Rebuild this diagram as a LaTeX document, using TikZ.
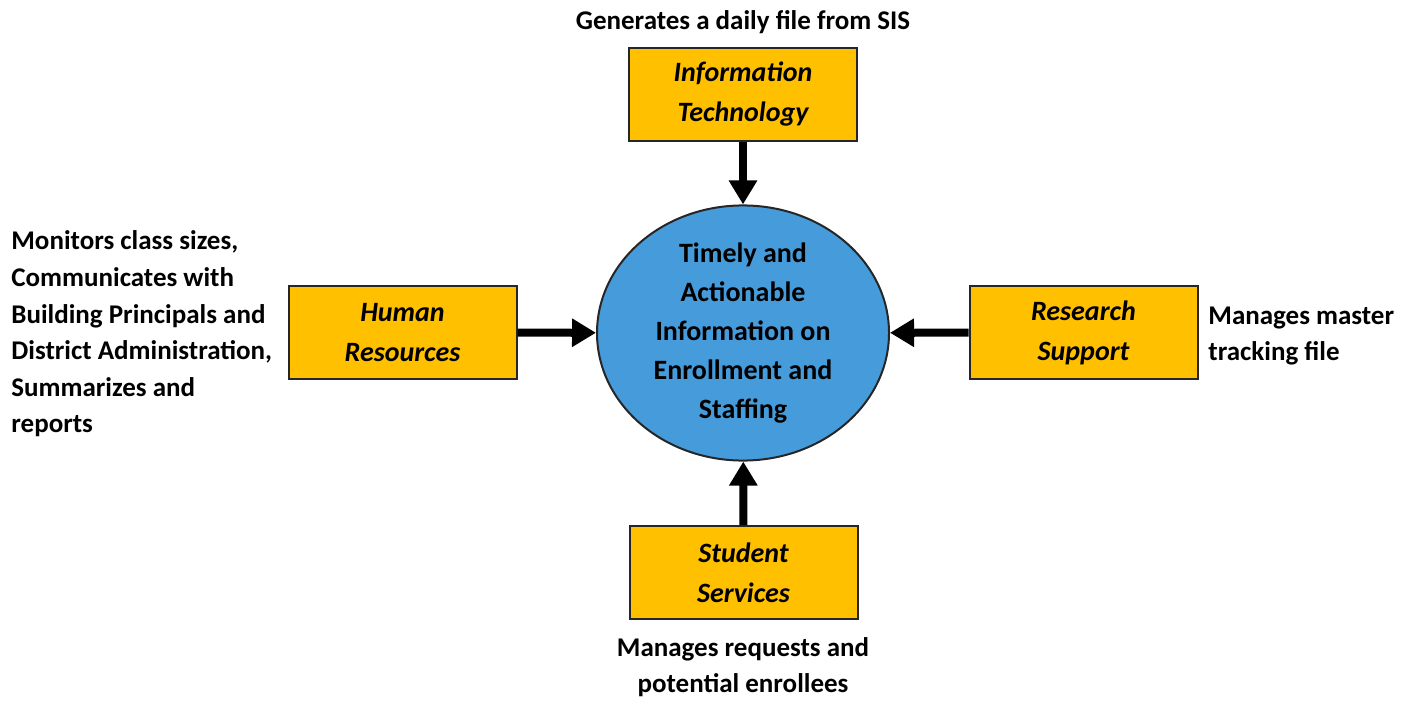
\documentclass[tikz,border=0pt]{standalone}
\usepackage{fontspec}
\setmainfont{Carlito}
\usepackage{tikz}
\usetikzlibrary{arrows.meta,shapes.geometric}
\definecolor{unitgold}{RGB}{255,192,0}
\definecolor{hubblue}{RGB}{70,155,219}

\begin{document}
\begin{tikzpicture}[x=0.5pt,y=-0.5pt,
        unit/.style={draw=black!85,line width=1pt,fill=unitgold,minimum width=114pt,minimum height=46.5pt,
                inner sep=0pt,align=center,font=\fontsize{14}{20}\selectfont\bfseries\itshape},
        note/.style={inner sep=0pt,font=\fontsize{13.5}{18.3}\selectfont\bfseries},
        feed/.style={line width=4pt,-{Triangle[width=13.5pt,length=12pt]}}]
                \useasboundingbox (0,0) rectangle (1416,700);
                % hub in the middle
                \node[ellipse,draw=black!85,line width=1pt,fill=hubblue,minimum width=146pt,minimum height=125.5pt,
                        inner sep=0pt,align=center,font=\fontsize{14}{19.5}\selectfont\bfseries]
                        (hub) at (743,333) {Timely and\\Actionable\\Information on\\Enrollment and\\Staffing};
                % the four units
                \node[unit] (it) at (743,94.5) {Information\\Technology};
                \node[unit] (hr) at (402.5,332.5) {Human\\Resources};
                \node[unit] (rs) at (1083.5,332.5) {Research\\Support};
                \node[unit] (ss) at (743.5,572.5) {Student\\Services};
                \draw[feed] (it) -- (hub);
                \draw[feed] (hr) -- (hub);
                \draw[feed] (rs) -- (hub);
                \draw[feed] (ss) -- (hub);
                % what each unit does
                \node[note,anchor=base] (itnote) at (743,30) {Generates a daily file from SIS};
                \node[note,anchor=west,align=left] (hrnote) at (11,334) {Monitors class sizes,\\Communicates with\\Building Principals and\\District Administration,\\Summarizes and\\reports};
                \node[note,anchor=west,align=left] (rsnote) at (1208,336) {Manages master\\tracking file};
                \node[note,align=center] (ssnote) at (743,667) {Manages requests and\\potential enrollees};
\end{tikzpicture}
\end{document}
